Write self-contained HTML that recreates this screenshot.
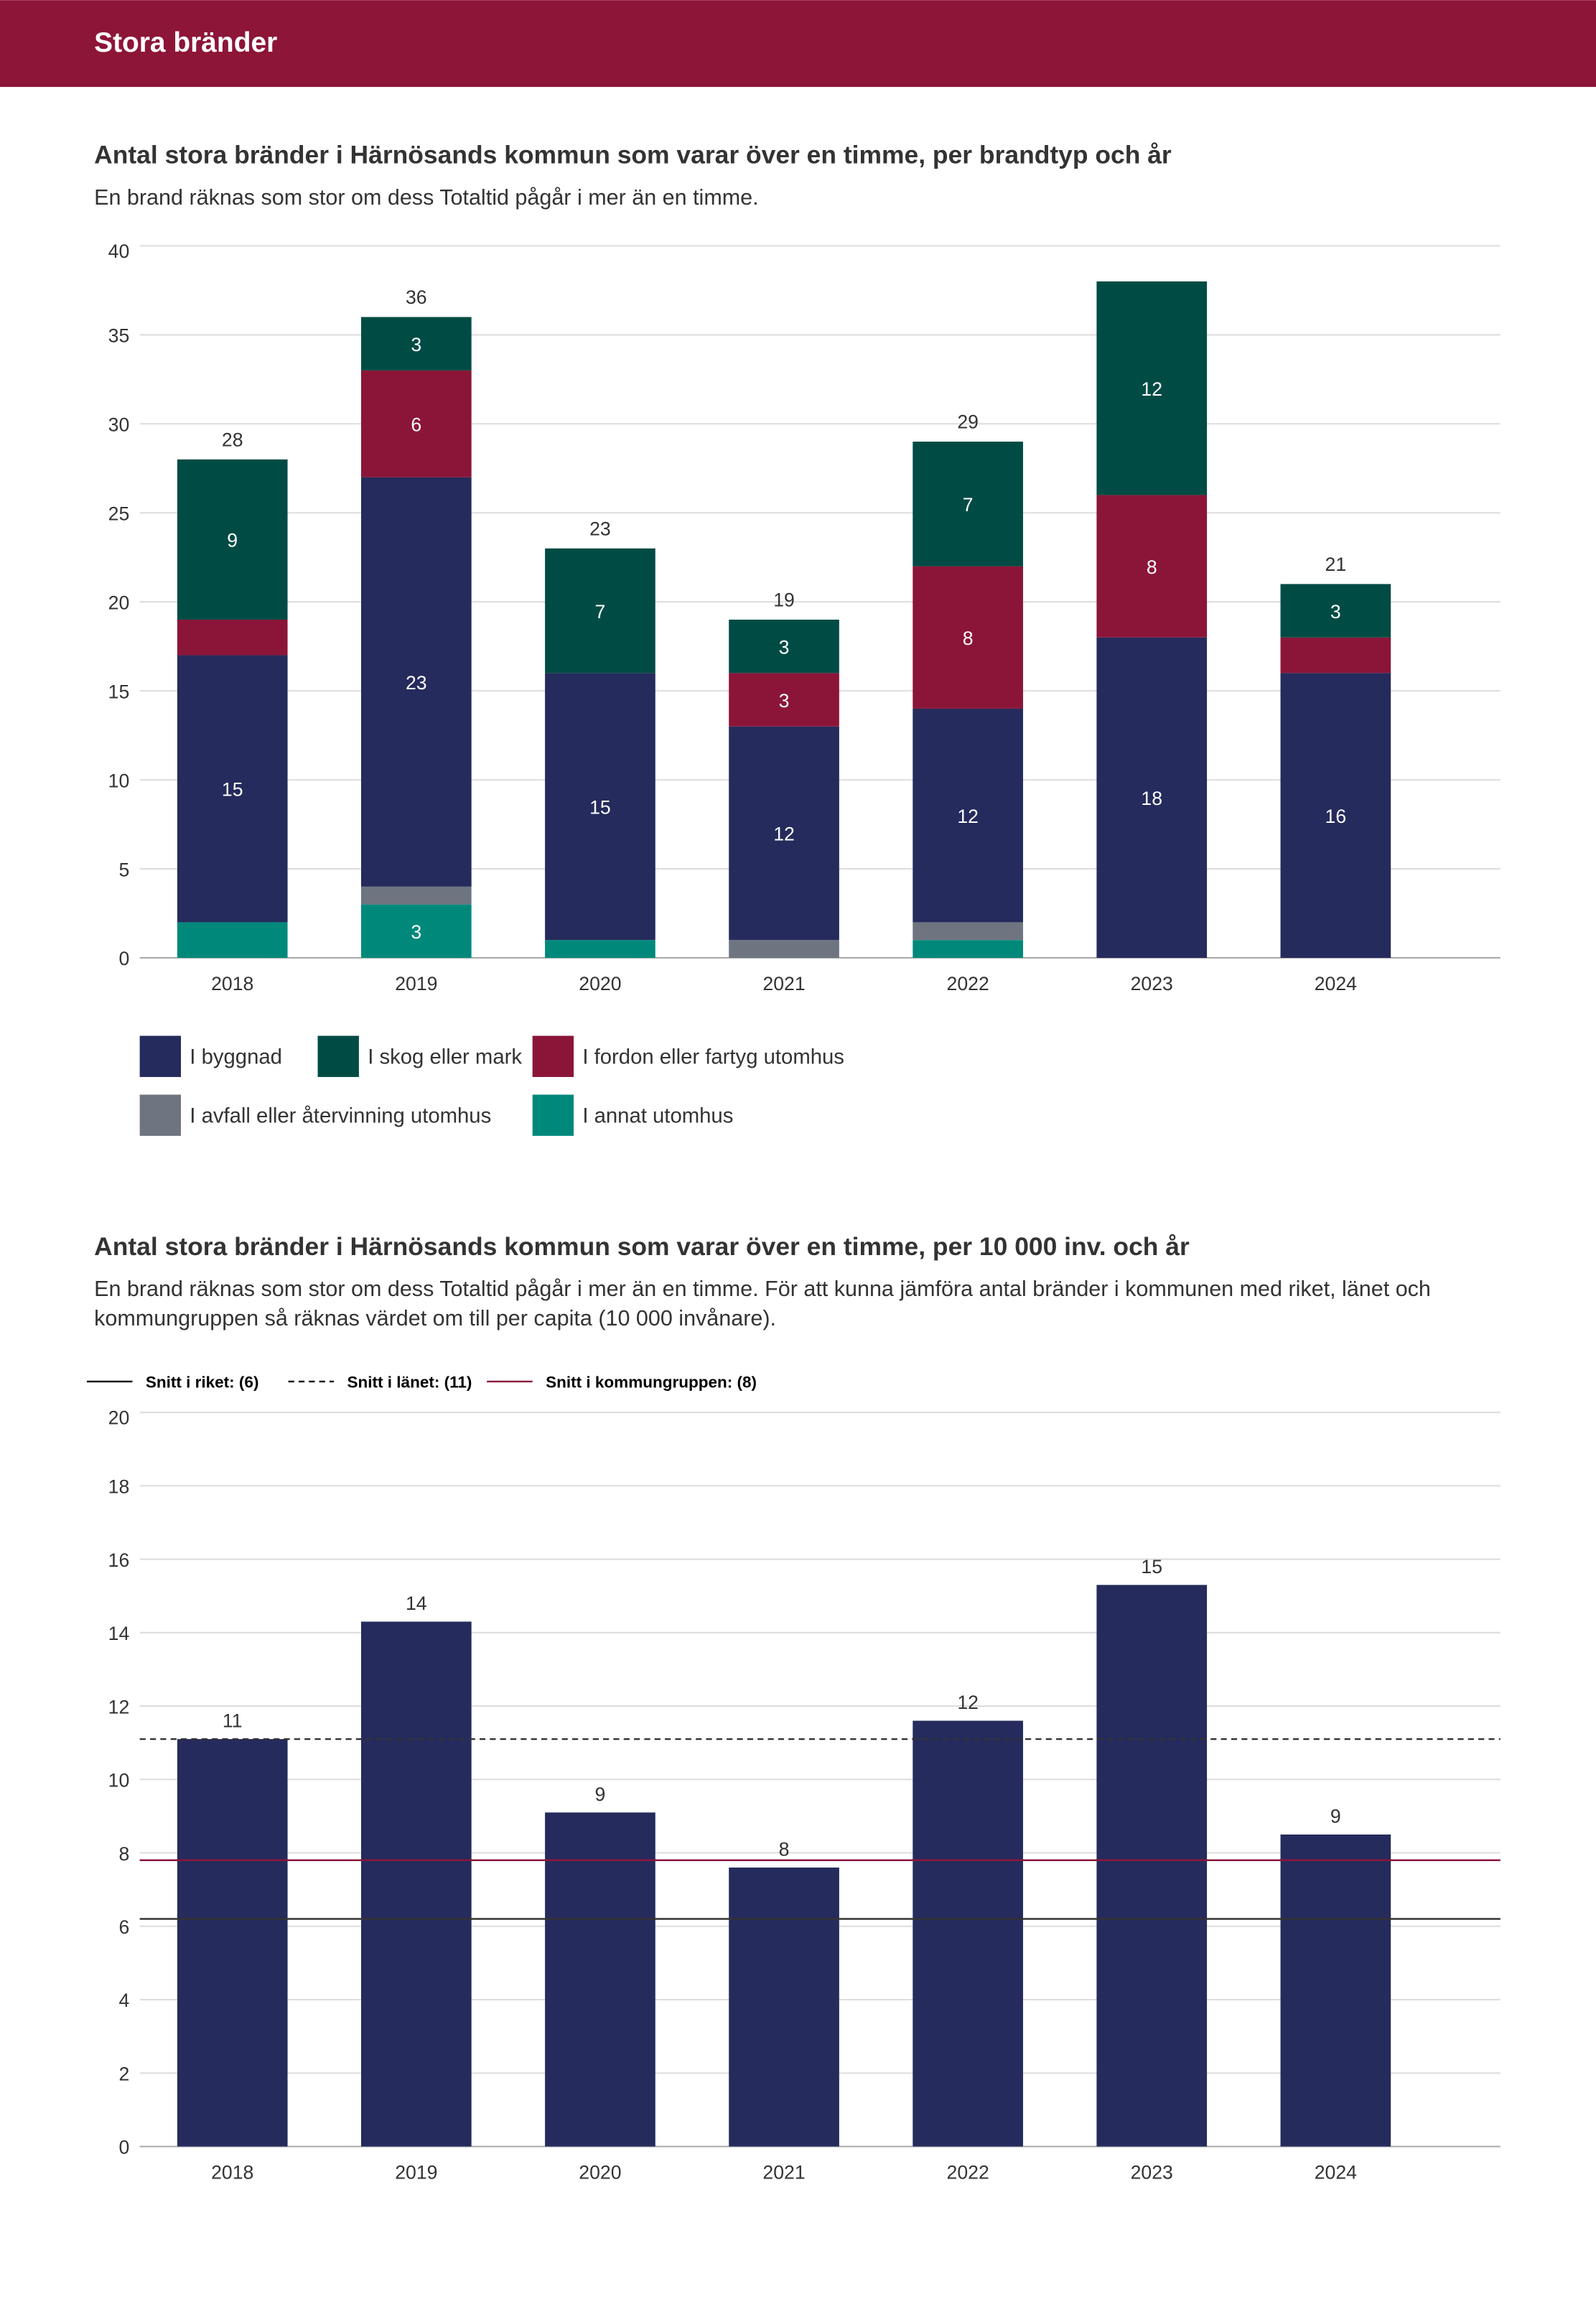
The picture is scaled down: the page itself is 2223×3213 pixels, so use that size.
<!DOCTYPE html>
<html><head><meta charset="utf-8">
<style>
html,body{margin:0;padding:0;background:#fff;}
svg{display:block;font-family:"Liberation Sans",sans-serif;}
</style></head>
<body>
<svg id="s" width="2223" height="3213" viewBox="0 0 1085 1568" xmlns="http://www.w3.org/2000/svg">
<rect x="0" y="0" width="1085" height="59" fill="#8c1538"/>
<text x="64" y="35" font-size="19" font-weight="bold" fill="#fff">Stora bränder</text>
<text x="64" y="111" font-size="17.3" font-weight="bold" fill="#333">Antal stora bränder i Härnösands kommun som varar över en timme, per brandtyp och år</text>
<text x="64" y="139" font-size="14.9" fill="#333">En brand räknas som stor om dess Totaltid pågår i mer än en timme.</text>
<g id="c1"></g>
<g id="l1"></g>
<text x="64" y="853" font-size="17.3" font-weight="bold" fill="#333">Antal stora bränder i Härnösands kommun som varar över en timme, per 10 000 inv. och år</text>
<text x="64" y="881" font-size="14.9" fill="#333">En brand räknas som stor om dess Totaltid pågår i mer än en timme. För att kunna jämföra antal bränder i kommunen med riket, länet och</text>
<text x="64" y="901" font-size="14.9" fill="#333">kommungruppen så räknas värdet om till per capita (10 000 invånare).</text>
<g id="l2"></g>
<g id="c2"></g>
</svg>
<script>
const years = ["2018","2019","2020","2021","2022","2023","2024"];
const annat   = [2,3,1,0,1,0,0];
const avfall  = [0,1,0,1,1,0,0];
const byggnad = [15,23,15,12,12,18,16];
const fordon  = [2,6,0,3,8,8,2];
const skog    = [9,3,7,3,7,12,3];
const totals  = [28,36,23,19,29,null,21];
const yTicks1 = [0,5,10,15,20,25,30,35,40];

const perCapita = [11.1,14.3,9.1,7.6,11.6,15.3,8.5];
const perCapitaLabels = ["11","14","9","8","12","15","9"];
const yTicks2 = [0,2,4,6,8,10,12,14,16,18,20];
const riket = 6.2, lanet = 11.1, kommungrupp = 7.8;

const NS="http://www.w3.org/2000/svg";
function mk(tag,attrs,parent,txt){const e=document.createElementNS(NS,tag);for(const k in attrs)e.setAttribute(k,attrs[k]);if(txt!==undefined)e.textContent=txt;parent.appendChild(e);return e;}
const X0=95,X1=1020,step=125,bw=75,firstC=158;
const xC=i=>firstC+i*step;

const c1=document.getElementById('c1');
const y1=v=>651-v*(651-167)/40;
yTicks1.forEach(t=>{
  const l=mk('line',{x1:X0,x2:X1,y1:y1(t),y2:y1(t),stroke:t===0?'#aaa':'#ddd','stroke-width':1},c1);
  
  
  const tx=mk('text',{x:88,y:y1(t)+5+(t===40?3:0),'font-size':13,fill:'#333','text-anchor':'end'},c1,t);
  
  
});
const series=[["annat",annat,"#00897b"],["avfall",avfall,"#6e7580"],["byggnad",byggnad,"#252b5c"],["fordon",fordon,"#8b1538"],["skog",skog,"#004c45"]];
years.forEach((yr,i)=>{
  let base=0;
  series.forEach(([nm,arr,col])=>{
    const v=arr[i];
    if(v>0){
      const r=mk('rect',{x:xC(i)-bw/2,y:y1(base+v),width:bw,height:y1(base)-y1(base+v),fill:col},c1);
      
      
      if(v>=3){
        const t=mk('text',{x:xC(i),y:y1(base+v/2)+5,'font-size':13,fill:'#fff','text-anchor':'middle'},c1,v);
        
        
      }
    }
    base+=v;
  });
  if(totals[i]!==null){
    const t=mk('text',{x:xC(i),y:y1(base)-9,'font-size':13,fill:'#333','text-anchor':'middle'},c1,totals[i]);
    
    
  }
  const xl=mk('text',{x:xC(i),y:673,'font-size':13,fill:'#333','text-anchor':'middle'},c1,yr);
  
  
});
const l1=document.getElementById('l1');
const leg=[["I byggnad","#252b5c",95,704],["I skog eller mark","#004c45",216,704],["I fordon eller fartyg utomhus","#8b1538",362,704],["I avfall eller återvinning utomhus","#6e7580",95,744],["I annat utomhus","#00897b",362,744]];
leg.forEach(([lab,col,x,y])=>{
  const r=mk('rect',{x:x,y:y,width:28,height:28,fill:col},l1);
  
  
  const t=mk('text',{x:x+34,y:y+19,'font-size':14.3,fill:'#333'},l1,lab);
  
  
});

const l2=document.getElementById('l2');
[["Snitt i riket: (6)","#000","",59],["Snitt i länet: (11)","#000","4,3",196],["Snitt i kommungruppen: (8)","#8b1538","",331]].forEach(([lab,col,da,x])=>{
  const l=mk('line',{x1:x,x2:x+31,y1:939,y2:939,stroke:col,'stroke-width':1.2,'stroke-dasharray':da},l2);
  
  
  const t=mk('text',{x:x+40,y:943,'font-size':11,'font-weight':'bold',fill:'#000'},l2,lab);
  
  
});

const c2=document.getElementById('c2');
const y2=v=>1459-v*(1459-960)/20;
yTicks2.forEach(t=>{
  const l=mk('line',{x1:X0,x2:X1,y1:y2(t),y2:y2(t),stroke:t===0?'#aaa':'#ddd','stroke-width':1},c2);
  
  
  const tx=mk('text',{x:88,y:y2(t)+5+(t===20?3:0),'font-size':13,fill:'#333','text-anchor':'end'},c2,t);
  
  
});
years.forEach((yr,i)=>{
  const v=perCapita[i];
  const r=mk('rect',{x:xC(i)-bw/2,y:y2(v),width:bw,height:y2(0)-y2(v),fill:'#252b5c'},c2);
  
  
  const t=mk('text',{x:xC(i),y:y2(v)-8,'font-size':13,fill:'#333','text-anchor':'middle'},c2,perCapitaLabels[i]);
  
  
  const xl=mk('text',{x:xC(i),y:1481,'font-size':13,fill:'#333','text-anchor':'middle'},c2,yr);
  
  
});
[[riket,"#333","","riket-line"],[lanet,"#333","4,3","lanet-line"],[kommungrupp,"#8b1538","","kommungrupp-line"]].forEach(([v,col,da,nm])=>{
  const l=mk('line',{x1:X0,x2:X1,y1:y2(v),y2:y2(v),stroke:col,'stroke-width':1.2,'stroke-dasharray':da},c2);
  
  
});
</script>
</body></html>
